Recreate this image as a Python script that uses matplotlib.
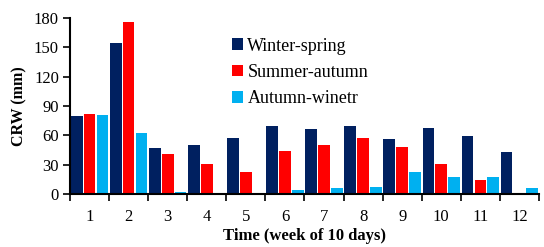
import numpy as np
import matplotlib.pyplot as plt
from matplotlib.ticker import FixedLocator

weeks = list(range(1, 13))
winter_spring = [80, 154, 47.5, 50, 57, 70, 66, 70, 56.7, 68, 59.4, 43.4]
summer_autumn = [82, 175.5, 41.3, 30.4, 22.9, 43.7, 50.2, 57.7, 48.2, 30.4, 14.3, 0]
autumn_winter = [81, 62.8, 2, 0, 0, 3.8, 6.5, 7.5, 22.5, 17.8, 17.8, 6.5]
series_names = ['Winter-spring', 'Summer-autumn', 'Autumn-winetr']
colors = ['#002060', '#FF0000', '#00B0F0']

plt.rcParams['font.family'] = 'Liberation Serif'

fig = plt.figure(figsize=(5.44, 2.47), dpi=100)
ax = fig.add_axes([70 / 544, 1 - 194 / 247, 469 / 544, 176 / 247])

x = np.array(weeks)
w = 0.3
off = 0.33
for i, (vals, name, c) in enumerate(zip([winter_spring, summer_autumn, autumn_winter], series_names, colors)):
    ax.bar(x + (i - 1) * off, vals, width=w, color=c, label=name)

ax.set_xlim(0.5, 12.5)
ax.set_ylim(0, 180)
ax.set_yticks(np.arange(0, 181, 30))
ax.set_xticks(weeks)
ax.xaxis.set_minor_locator(FixedLocator(np.arange(0.5, 13, 1)))
ax.tick_params(axis='x', which='major', length=0, labelsize=12, pad=11)
ax.tick_params(axis='x', which='minor', length=5, width=1.2, direction='out')
ax.tick_params(axis='y', length=5, width=1.2, direction='out', labelsize=12, pad=3)

for s in ['top', 'right']:
    ax.spines[s].set_visible(False)
for s in ['left', 'bottom']:
    ax.spines[s].set_linewidth(1.5)

ax.set_ylabel('CRW (mm)', fontsize=11.5, fontweight='bold', labelpad=5)
ax.set_xlabel('Time (week of 10 days)', fontsize=12, fontweight='bold', labelpad=2)

leg = ax.legend(loc='upper left', bbox_to_anchor=(0.33, 0.93), frameon=False,
                fontsize=13, handlelength=0.6, handleheight=0.6,
                handletextpad=0.25, labelspacing=0.52, borderaxespad=0)

plt.savefig('out.png', dpi=100)
